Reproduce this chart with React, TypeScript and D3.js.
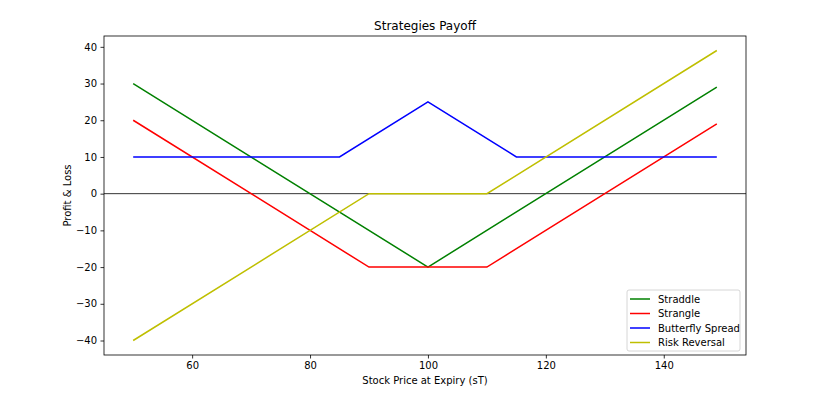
import { useRef, useEffect } from "react";
import * as d3 from "d3";

// breakpoints of each payoff line (x = stock price, y = profit & loss)
const straddleX = [50, 100, 149];
const straddleY = [30, -20, 29];
const strangleX = [50, 90, 110, 149];
const strangleY = [20, -20, -20, 19];
const butterflyX = [50, 85, 100, 115, 149];
const butterflyY = [10, 10, 25, 10, 10];
const riskRevX = [50, 90, 110, 149];
const riskRevY = [-40, 0, 0, 39];

const seriesNames = ["Straddle", "Strangle", "Butterfly Spread", "Risk Reversal"];
const seriesColors = ["#008000", "#ff0000", "#0000ff", "#bfbf00"];

const xTicks = [60, 80, 100, 120, 140];
const yTicks = [-40, -30, -20, -10, 0, 10, 20, 30, 40];

const App = () => {
  const svgRef = useRef<SVGSVGElement>(null);

  useEffect(() => {
    const svg = d3.select(svgRef.current);
    svg.selectAll("*").remove();

    const width = 828;
    const height = 399;
    const margin = { top: 36, right: 82, bottom: 44, left: 104 };
    const font = "DejaVu Sans, sans-serif";

    const x = d3
      .scaleLinear()
      .domain([45.05, 153.95])
      .range([margin.left, width - margin.right]);
    const y = d3
      .scaleLinear()
      .domain([-43.95, 42.95])
      .range([height - margin.bottom, margin.top]);

    svg.append("rect").attr("width", width).attr("height", height).attr("fill", "white");

    const series = [
      { xs: straddleX, ys: straddleY },
      { xs: strangleX, ys: strangleY },
      { xs: butterflyX, ys: butterflyY },
      { xs: riskRevX, ys: riskRevY },
    ];

    // zero line
    svg
      .append("line")
      .attr("x1", margin.left)
      .attr("x2", width - margin.right)
      .attr("y1", y(0))
      .attr("y2", y(0))
      .attr("stroke", "black")
      .attr("stroke-width", 0.8);

    const line = d3
      .line<[number, number]>()
      .x((d) => x(d[0]))
      .y((d) => y(d[1]));

    series.forEach((s, i) => {
      const pts = s.xs.map((v, j) => [v, s.ys[j]] as [number, number]);
      svg
        .append("path")
        .datum(pts)
        .attr("fill", "none")
        .attr("stroke", seriesColors[i])
        .attr("stroke-width", 1.5)
        .attr("d", line);
    });

    // axes
    const xAxis = svg
      .append("g")
      .attr("transform", `translate(0,${height - margin.bottom})`)
      .call(d3.axisBottom(x).tickValues(xTicks).tickSize(3.5).tickPadding(3.5));
    const yAxis = svg
      .append("g")
      .attr("transform", `translate(${margin.left},0)`)
      .call(
        d3
          .axisLeft(y)
          .tickValues(yTicks)
          .tickSize(3.5)
          .tickPadding(3.5)
          .tickFormat((d) => String(d).replace("-", "\u2212"))
      );
    [xAxis, yAxis].forEach((a) => {
      a.select(".domain").remove();
      a.selectAll("text").attr("font-family", font).attr("font-size", 10).attr("fill", "black");
      a.selectAll("line").attr("stroke", "black").attr("stroke-width", 0.8);
    });

    // frame
    svg
      .append("rect")
      .attr("x", margin.left)
      .attr("y", margin.top)
      .attr("width", width - margin.left - margin.right)
      .attr("height", height - margin.top - margin.bottom)
      .attr("fill", "none")
      .attr("stroke", "black")
      .attr("stroke-width", 0.8);

    // title & labels
    svg
      .append("text")
      .attr("x", (margin.left + width - margin.right) / 2)
      .attr("y", 30)
      .attr("text-anchor", "middle")
      .attr("font-family", font)
      .attr("font-size", 12)
      .text("Strategies Payoff");
    svg
      .append("text")
      .attr("x", (margin.left + width - margin.right) / 2)
      .attr("y", 384)
      .attr("text-anchor", "middle")
      .attr("font-family", font)
      .attr("font-size", 10)
      .text("Stock Price at Expiry (sT)");
    svg
      .append("text")
      .attr("transform", `translate(71,${(margin.top + height - margin.bottom) / 2}) rotate(-90)`)
      .attr("text-anchor", "middle")
      .attr("font-family", font)
      .attr("font-size", 10)
      .text("Profit & Loss");

    // legend
    const lg = svg.append("g").attr("transform", "translate(627,290)");
    lg.append("rect")
      .attr("width", 113)
      .attr("height", 61)
      .attr("rx", 2)
      .attr("fill", "white")
      .attr("fill-opacity", 0.8)
      .attr("stroke", "#cccccc")
      .attr("stroke-width", 0.8);
    seriesNames.forEach((name, i) => {
      const yy = 9 + i * 14.5;
      lg.append("line")
        .attr("x1", 3)
        .attr("x2", 23)
        .attr("y1", yy)
        .attr("y2", yy)
        .attr("stroke", seriesColors[i])
        .attr("stroke-width", 1.5);
      lg.append("text")
        .attr("x", 31)
        .attr("y", yy + 3.5)
        .attr("font-family", font)
        .attr("font-size", 10)
        .text(name);
    });
  }, []);

  return <svg ref={svgRef} width={828} height={399} style={{ display: "block", position: "absolute", left: 0, top: 0 }} />;
};

export default App;
